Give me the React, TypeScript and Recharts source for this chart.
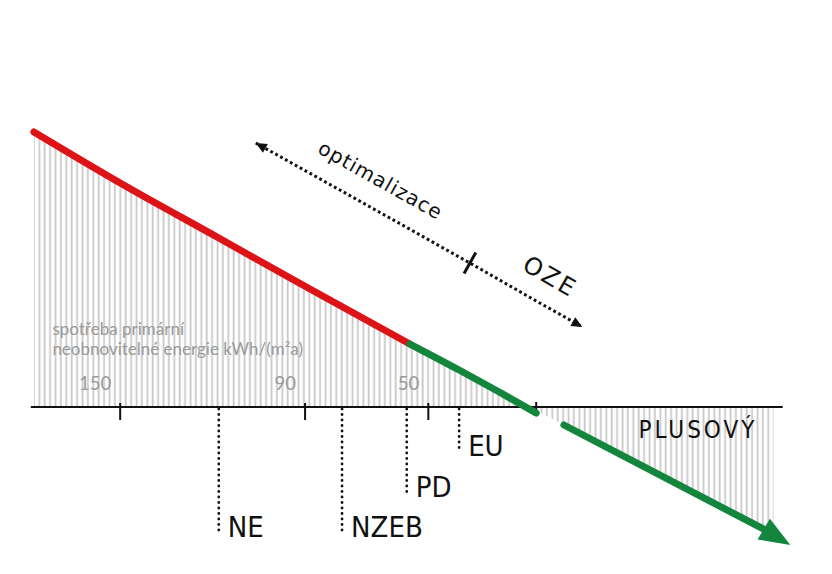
import {
  Area,
  ComposedChart,
  Line,
  ReferenceDot,
  ReferenceLine,
  XAxis,
  YAxis,
} from "recharts";

// x = spotřeba (kWh/(m2a)), drawn reversed; y = schematic balance above / below zero
const redX = [178, 150, 118, 89, 56];
const redY = [275, 224, 169, 119, 63];
const greenX = [56, 40, 27, 15];
const greenY = [63, 37, 15, -6];
const plusX = [6, -60];
const plusY = [-18, -124];
const hatchX = [178, 150, 118, 89, 56, 40, 27, 17, 6, -60, -62];
const hatchY = [275, 224, 169, 119, 63, 37, 15, 0, -18, -124, -127];

const axisRange = [179, -65];
const tickValues = [150, 90, 50];
const zeroTick = 15;

const levelNames = ["NE", "NZEB", "PD", "EU"];
const levelX = [118, 78, 57, 40];
const levelDepth = [-126, -126, -86, -45];

const arrowX = [106, 70, 36.5, 15, 0];
const arrowY = [264, 202, 144, 106, 80];
const arrowMarks = ["start", "optimalizace", "tick", "OZE", "end"];

const plusLabel = { x: -37.5, y: -31, text: "PLUSOVÝ" };
const caption = { x: 172, y: 72, lines: ["spotřeba primární", "neobnovitelné energie kWh/(m²a)"] };

const toRows = (xs: number[], ys: number[]) => xs.map((x, i) => ({ x, y: ys[i] }));

const redData = toRows(redX, redY);
const greenData = toRows(greenX, greenY);
const plusData = toRows(plusX, plusY);
const hatchData = toRows(hatchX, hatchY);
const arrowData = arrowX.map((x, i) => ({ x, y: arrowY[i], mark: arrowMarks[i] }));

const hand = "'Liberation Sans Narrow', 'DejaVu Sans Condensed', sans-serif";
const gray = "#9a9a9a";

const headPath = (x: number, y: number, angle: number, len: number, half: number) => {
  const c = Math.cos(angle);
  const s = Math.sin(angle);
  const tx = x + c * len;
  const ty = y + s * len;
  return `M${tx},${ty}L${x - s * half},${y + c * half}L${x + s * half},${y - c * half}Z`;
};

const greenHead = () => {
  const seen: { x: number; y: number }[] = [];
  return (p: any) => {
    const { cx, cy, index } = p;
    seen[index] = { x: cx, y: cy };
    if (index !== plusX.length - 1) return <g key={`gh-${index}`} />;
    const prev = p.points?.[index - 1] ?? seen[index - 1];
    const a = Math.atan2(cy - prev.y, cx - prev.x);
    return <path key={`gh-${index}`} d={headPath(cx - Math.cos(a) * 4, cy - Math.sin(a) * 4, a + 0.06, 31, 12)} fill="#13853c" />;
  };
};

const arrowMarksRenderer = () => {
  const seen: { x: number; y: number }[] = [];
  return (p: any) => {
    const { cx, cy, index } = p;
    seen[index] = { x: cx, y: cy };
    const kind = arrowMarks[index];
    if (index === 0) return <g key={`am-${index}`} />;
    const prev = p.points?.[index - 1] ?? seen[index - 1];
    const a = Math.atan2(cy - prev.y, cx - prev.x);
    const c = Math.cos(a);
    const s = Math.sin(a);
    const deg = (a * 180) / Math.PI;
    const parts = [];
    if (index === 1) {
      const start = p.points?.[0] ?? seen[0];
      parts.push(
        <path key="back" d={headPath(start.x + c * 11, start.y + s * 11, a + Math.PI, 11, 5)} fill="#111" />
      );
    }
    if (kind === "tick") {
      parts.push(
        <line key="tick" x1={cx - s * 12} y1={cy + c * 12} x2={cx + s * 12} y2={cy - c * 12} stroke="#111" strokeWidth={3} />
      );
    } else if (kind === "end") {
      parts.push(<path key="fwd" d={headPath(cx - c * 11, cy - s * 11, a, 11, 5)} fill="#111" />);
    } else {
      const tx = cx + s * 27;
      const ty = cy - c * 27;
      const isOze = kind === "OZE";
      parts.push(
        <text
          key="lbl"
          x={tx}
          y={ty}
          textAnchor="middle"
          dominantBaseline="middle"
          transform={`rotate(${deg}, ${tx}, ${ty})`}
          fontFamily="'DejaVu Sans', sans-serif"
          fontSize={isOze ? 24 : 20}
          letterSpacing={isOze ? 2.5 : 1}
          fill="#111"
        >
          {kind}
        </text>
      );
    }
    return <g key={`am-${index}`}>{parts}</g>;
  };
};

const textShape = (text: string, dx: number, dy: number, style: any) => (p: any) => (
  <text x={p.cx + dx} y={p.cy + dy} {...style}>
    {text}
  </text>
);

const captionShape = (p: any) => (
  <text x={p.cx} y={p.cy} fontFamily="Lato, 'Open Sans', sans-serif" fontSize={17} fill={gray}>
    {caption.lines.map((l, i) => (
      <tspan key={l} x={p.cx} dy={i === 0 ? 0 : 20}>
        {l}
      </tspan>
    ))}
  </text>
);

export default function App() {
  return (
    <div style={{ position: "absolute", left: 0, top: 0, width: 832, height: 574, background: "#fff" }}>
      <ComposedChart width={832} height={574} margin={{ top: 0, right: 0, bottom: 0, left: 0 }}>
        <defs>
          <pattern id="hatch" width={5.4} height={12} patternUnits="userSpaceOnUse">
            <line x1={1.5} y1={0} x2={1.5} y2={12} stroke="#c8c8c8" strokeWidth={1.8} />
          </pattern>
        </defs>
        <XAxis type="number" dataKey="x" domain={[-81, 189]} reversed hide allowDataOverflow />
        <YAxis type="number" dataKey="y" domain={[-167, 407]} hide allowDataOverflow />

        <Area
          data={hatchData}
          dataKey="y"
          type="monotone"
          baseValue={0}
          stroke="none"
          fill="url(#hatch)"
          fillOpacity={1}
          dot={false}
          activeDot={false}
          isAnimationActive={false}
        />

        <ReferenceLine
          segment={[
            { x: axisRange[0], y: 0 },
            { x: axisRange[1], y: 0 },
          ]}
          stroke="#111"
          strokeWidth={2}
        />
        {tickValues.map((t) => (
          <ReferenceLine
            key={`t-${t}`}
            segment={[
              { x: t, y: 4 },
              { x: t, y: -13 },
            ]}
            stroke="#111"
            strokeWidth={2}
          />
        ))}
        <ReferenceLine
          segment={[
            { x: zeroTick, y: 5 },
            { x: zeroTick, y: -4 },
          ]}
          stroke="#111"
          strokeWidth={2}
        />
        {tickValues.map((t) => (
          <ReferenceDot
            key={`tl-${t}`}
            x={t}
            y={0}
            shape={textShape(String(t), -9, -17, {
              textAnchor: "end",
              fontFamily: "Lato, 'Open Sans', sans-serif",
              fontSize: 18.5,
              fill: gray,
            })}
          />
        ))}
        <ReferenceDot x={caption.x} y={caption.y} shape={captionShape} />

        {levelNames.map((name, i) => (
          <ReferenceLine
            key={`lv-${name}`}
            segment={[
              { x: levelX[i], y: -2 },
              { x: levelX[i], y: levelDepth[i] },
            ]}
            stroke="#111"
            strokeWidth={2.8}
            strokeDasharray="0 5.5"
            strokeLinecap="round"
          />
        ))}
        {levelNames.map((name, i) => (
          <ReferenceDot
            key={`lvl-${name}`}
            x={levelX[i]}
            y={levelDepth[i]}
            shape={textShape(name, 9, 4, { fontFamily: hand, fontSize: 29, fill: "#111" })}
          />
        ))}

        <Line
          data={redData}
          dataKey="y"
          type="monotone"
          stroke="#dc1417"
          strokeWidth={7}
          strokeLinecap="round"
          dot={false}
          activeDot={false}
          isAnimationActive={false}
        />
        <Line
          data={greenData}
          dataKey="y"
          type="monotone"
          stroke="#13853c"
          strokeWidth={7}
          strokeLinecap="round"
          dot={false}
          activeDot={false}
          isAnimationActive={false}
        />
        <Line
          data={plusData}
          dataKey="y"
          type="linear"
          stroke="#13853c"
          strokeWidth={7}
          strokeLinecap="round"
          dot={greenHead()}
          activeDot={false}
          isAnimationActive={false}
        />
        <Line
          data={arrowData}
          dataKey="y"
          type="linear"
          stroke="#111"
          strokeWidth={3}
          strokeDasharray="2.8 2.8"
          dot={arrowMarksRenderer()}
          activeDot={false}
          isAnimationActive={false}
        />

        <ReferenceDot
          x={plusLabel.x}
          y={plusLabel.y}
          shape={textShape(plusLabel.text, 0, 0, {
            textAnchor: "middle",
            fontFamily: hand,
            fontSize: 24,
            letterSpacing: 3,
            fill: "#111",
          })}
        />
      </ComposedChart>
    </div>
  );
}
